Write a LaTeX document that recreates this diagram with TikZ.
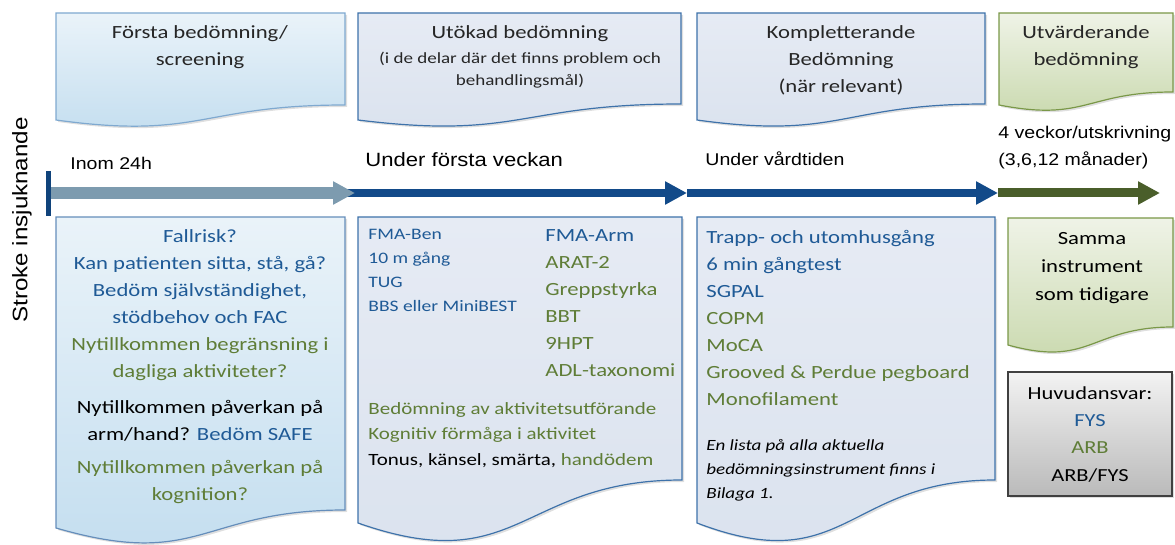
\documentclass[tikz,border=0pt]{standalone}
\usepackage{fontspec}
\setmainfont{Carlito}[FakeStretch=1.22]
\newfontfamily\arialf{Liberation Sans}[FakeStretch=1.15]
\usepackage{tikz}
\usetikzlibrary{arrows.meta,shadows}

\definecolor{fysblue}{HTML}{1F5A96}
\definecolor{arbgreen}{HTML}{5F7D37}
\definecolor{headtext}{HTML}{262626}
\definecolor{lineblue}{HTML}{124A89}
\definecolor{linegray}{HTML}{7D9BAF}
\definecolor{linegreen}{HTML}{4A5E2A}
\definecolor{cyanA}{HTML}{EAF3F9}
\definecolor{cyanB}{HTML}{C2DDEF}
\definecolor{lavA}{HTML}{E6EBF4}
\definecolor{lavB}{HTML}{DAE2EE}
\definecolor{olivA}{HTML}{EFF3E7}
\definecolor{olivB}{HTML}{C8D8AC}
\definecolor{edgeblue}{HTML}{3E72AA}
\definecolor{edgecyan}{HTML}{7FA9D0}
\definecolor{edgeolive}{HTML}{7A9848}

\newcommand\fys[1]{\textcolor{fysblue}{#1}}
\newcommand\arb[1]{\textcolor{arbgreen}{#1}}
\newcommand\fbig{\fontsize{9.3}{13.5}\selectfont}
\newcommand\fmid{\fontsize{8.6}{12.8}\selectfont}
\newcommand\fsml{\fontsize{8}{12}\selectfont}
\newcommand\fitl{\fontsize{7.8}{12}\selectfont\itshape}
\newcommand\docshape[7][]{%
  \path[#1] (#2,#3) -- (#4,#3) -- (#4,#5)
    .. controls ({(#2+#4)/2},#5) and ({(#2+#4)/2},#7) .. (#2,#6) -- cycle;}

\begin{document}
\begin{tikzpicture}[x=0.5pt,y=-0.5pt,
  shade/.style={drop shadow={shadow xshift=1pt,shadow yshift=-1pt,opacity=0.25}},
  cyanbox/.style={shade,draw=edgecyan,line width=0.6pt,top color=cyanA,bottom color=cyanB},
  lavbox/.style={shade,draw=edgeblue,line width=0.6pt,top color=lavA,bottom color=lavB},
  olivbox/.style={shade,draw=edgeolive,line width=0.6pt,top color=olivA,bottom color=olivB},
  txt/.style={inner sep=0pt,font=\fbig,align=center},
  tl/.style={inner sep=0pt,anchor=base west,font=\arialf\fontsize{8.5}{12}\selectfont},
  tip/.style={-{Triangle[length=11pt,width=11pt]}}]
  \useasboundingbox (0,0) rectangle (1175,545);

  \docshape[cyanbox]{56}{13}{345}{105}{120}{140}
  \docshape[lavbox]{358}{13}{681}{104}{120}{140}
  \docshape[lavbox]{697}{13}{985}{104}{120}{140}
  \docshape[olivbox]{999}{13}{1173}{92}{105}{122}

  \docshape[cyanbox,draw=edgeblue!80]{56}{217}{345}{510}{528}{570}
  \docshape[lavbox]{358}{217}{682}{480}{523}{580}
  \docshape[lavbox]{697}{217}{995}{480}{523}{580}
  \docshape[olivbox]{1008}{218}{1173}{327}{345}{368}
  \path[shade,draw=black!75,line width=0.6pt,top color=black!5,bottom color=black!27]
    (1008,372) rectangle (1172,496);

  \node[txt,anchor=north,text=headtext] (h1) at (200,25) {Första bedömning/\\screening};
  \node[txt,anchor=north,text=headtext] (h2) at (520,25) {Utökad bedömning};
  \node[txt,anchor=north,text=headtext,font=\fontsize{7.8}{11}\selectfont]
    (h2s) at (520,52) {(i de delar där det finns problem och\\behandlingsmål)};
  \node[txt,anchor=north,text=headtext] (h3) at (841,25) {Kompletterande\\Bedömning\\(när relevant)};
  \node[txt,anchor=north,text=headtext] (h4) at (1086,25) {Utvärderande\\bedömning};

  \coordinate (t0) at (48,193);
  \coordinate (t1) at (355,193);
  \coordinate (t2) at (687,193);
  \coordinate (t3) at (998,193);
  \coordinate (t4) at (1160,193);
  \draw[tip,linegreen,line width=4.5pt] (t3) -- (t4);
  \draw[tip,lineblue,line width=3.7pt] (t2) -- (t3);
  \draw[tip,lineblue,line width=3.7pt] ([xshift=-6pt]t1) -- (t2);
  \draw[tip,linegray,line width=6pt] (t0) -- (t1);
  \draw[lineblue!90!black,line width=2.5pt] (48,171) -- (48,216);

  \node[tl] (l1) at (70,170) {Inom 24h};
  \node[tl,font=\arialf\fontsize{9.6}{12}\selectfont] (l2) at (365,167) {Under första veckan};
  \node[tl] (l3) at (705,166) {Under vårdtiden};
  \node[tl] (l4) at (998,139) {4 veckor/utskrivning};
  \node[tl] (l5) at (998,166) {(3,6,12 månader)};
  \node[inner sep=0pt,rotate=90,font=\arialf\fontsize{10.5}{12}\selectfont] (onset) at (22,220) {Stroke insjuknande};

  \node[txt,anchor=north] (b1) at (200,229) {\fys{Fallrisk?}\\
    \fys{Kan patienten sitta, stå, gå?}\\
    \fys{Bedöm självständighet,}\\
    \fys{stödbehov och FAC}\\
    \arb{Nytillkommen begränsning i}\\
    \arb{dagliga aktiviteter?}\\[4.5pt]
    Nytillkommen påverkan på\\
    arm/hand? \fys{Bedöm SAFE}\\[3pt]
    \arb{Nytillkommen påverkan på}\\
    \arb{kognition?}};

  \node[txt,anchor=north west,align=left,font=\fsml,text=fysblue] (b2l) at (368,229)
    {FMA-Ben\\10 m gång\\TUG\\BBS eller MiniBEST};
  \node[txt,anchor=north west,align=left] (b2r) at (545,229)
    {\fys{FMA-Arm}\\\arb{ARAT-2}\\\arb{Greppstyrka}\\\arb{BBT}\\\arb{9HPT}\\\arb{ADL-taxonomi}};
  \node[txt,anchor=north west,align=left,font=\fmid] (b2b) at (368,402)
    {\arb{Bedömning av aktivitetsutförande}\\
     \arb{Kognitiv förmåga i aktivitet}\\
     Tonus, känsel, smärta, \arb{handödem}};

  \node[txt,anchor=north west,align=left] (b3) at (706,230)
    {\fys{Trapp- och utomhusgång}\\\fys{6 min gångtest}\\\fys{SGPAL}\\
     \arb{COPM}\\\arb{MoCA}\\\arb{Grooved \& Perdue pegboard}\\\arb{Monofilament}};
  \node[txt,anchor=north west,align=left,font=\fitl] (b3n) at (706,439)
    {En lista på alla aktuella\\bedömningsinstrument finns i\\Bilaga 1.};

  \node[txt,anchor=north,font=\fontsize{9.3}{14}\selectfont] (b4) at (1092,232)
    {Samma\\instrument\\som tidigare};
  \node[txt,anchor=north,font=\fontsize{9.2}{13.7}\selectfont] (key) at (1090,386)
    {Huvudansvar:\\\fys{FYS}\\\arb{ARB}\\ARB/FYS};
\end{tikzpicture}
\end{document}
